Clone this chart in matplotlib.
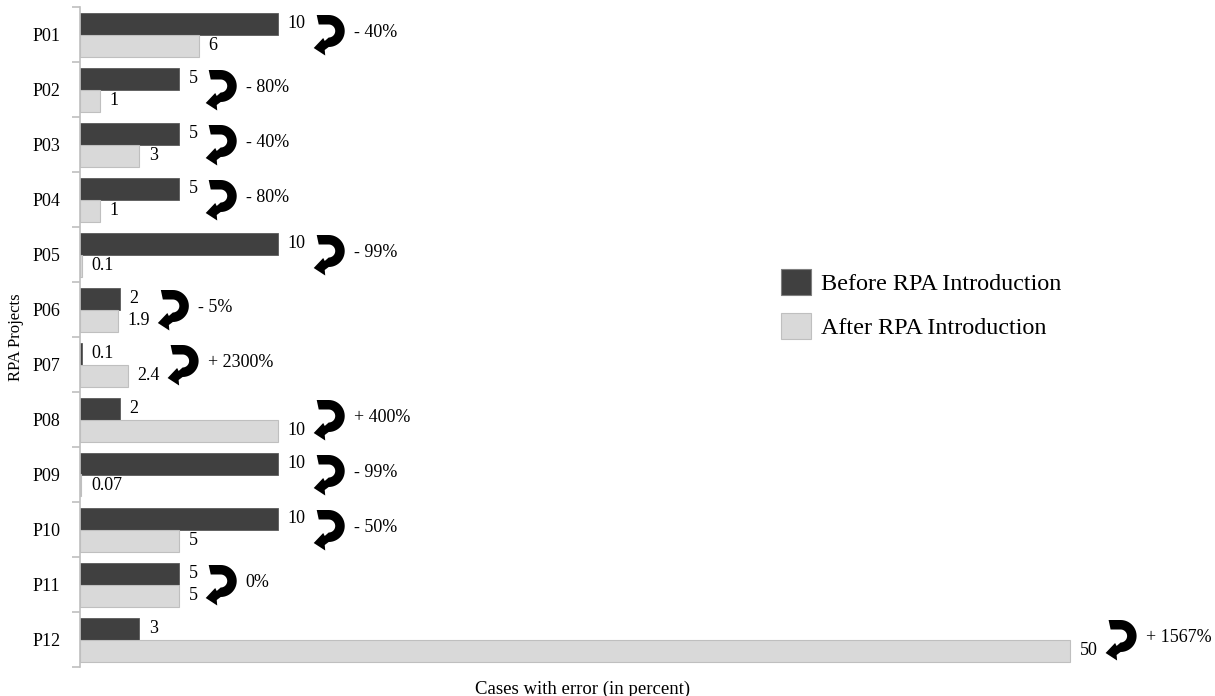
import matplotlib

matplotlib.use("Agg")
import matplotlib.pyplot as plt
import numpy as np
from matplotlib.patches import Patch, Polygon

plt.rcParams["font.family"] = ["Liberation Serif", "DejaVu Serif"]

projects = ["P01", "P02", "P03", "P04", "P05", "P06",
            "P07", "P08", "P09", "P10", "P11", "P12"]
before_rpa = [10, 5, 5, 5, 10, 2, 0.1, 2, 10, 10, 5, 3]
after_rpa = [6, 1, 3, 1, 0.1, 1.9, 2.4, 10, 0.07, 5, 5, 50]

DARK = "#404040"
LIGHT = "#d9d9d9"
GRID = "#bfbfbf"
FS = 13


def change_label(b, a):
    pct = round((a - b) / b * 100)
    if pct == 0:
        return "0%"
    sign = "+" if pct > 0 else "-"
    return f"{sign} {abs(pct)}%"


def curved_arrow(cx=15.0, cy=3.5, r_out=16.0, r_in=6.5):
    """Outline (pixels, y up) of a thick clockwise U-turn arrow."""
    pts = [(3.0, cy + r_out)]
    for th in np.radians(np.linspace(90, -90, 30)):
        pts.append((cx + r_out * np.cos(th), cy + r_out * np.sin(th)))
    pts += [(11.0, -15.5), (11.5, -21.0), (0.0, -13.5), (9.5, -3.5), (11.0, -6.5)]
    for th in np.radians(np.linspace(-90, 90, 30)):
        pts.append((cx + r_in * np.cos(th), cy + r_in * np.sin(th)))
    pts.append((5.0, cy + r_in))
    return np.array(pts)


fig = plt.figure(figsize=(12.15, 6.96), dpi=100)
ax = fig.add_axes([80 / 1215, 29 / 696, 1120 / 1215, 660 / 696])

ypos = list(range(len(projects)))
h = 0.4
ax.barh([y - h / 2 for y in ypos], before_rpa, height=h, color=DARK,
        edgecolor="#5a5a5a", linewidth=0.6)
ax.barh([y + h / 2 for y in ypos], after_rpa, height=h, color=LIGHT,
        edgecolor=GRID, linewidth=0.8)

ax.set_xlim(0, 1120 / 19.8)
ax.set_ylim(len(projects) - 0.5, -0.5)

for side in ("top", "right", "bottom"):
    ax.spines[side].set_visible(False)
ax.spines["left"].set_color(GRID)
ax.spines["left"].set_linewidth(1.2)
ax.set_xticks([])
ax.set_yticks(ypos, projects, fontsize=FS)
ax.tick_params(axis="y", which="major", length=0, pad=14)
ax.set_yticks([y - 0.5 for y in range(len(projects) + 1)], minor=True)
ax.tick_params(axis="y", which="minor", length=6, color=GRID, width=1.2)

ax.set_ylabel("RPA Projects", fontsize=12, labelpad=6)
ax.set_xlabel("Cases with error (in percent)", fontsize=13.5)
ax.xaxis.set_label_coords(0.449, -0.02)

# value labels next to each bar
pairs = []
for y, b, a in zip(ypos, before_rpa, after_rpa):
    tb = ax.annotate(f"{b:g}", (b, y - h / 2), xytext=(7, 0),
                     textcoords="offset points", va="center", fontsize=FS)
    ta = ax.annotate(f"{a:g}", (a, y + h / 2), xytext=(7, 0),
                     textcoords="offset points", va="center", fontsize=FS)
    pairs.append((tb, ta))

fig.canvas.draw()
renderer = fig.canvas.get_renderer()
inv = ax.transData.inverted()
outline = curved_arrow()

# U-turn arrows with the relative change, placed after the widest label
for y, b, a, (tb, ta) in zip(ypos, before_rpa, after_rpa, pairs):
    right = max(tb.get_window_extent(renderer).x1,
                ta.get_window_extent(renderer).x1)
    x0 = right + 8
    yc = ax.transData.transform((0, y))[1]
    pts = inv.transform(outline + [x0, yc])
    ax.add_patch(Polygon(pts, closed=True, facecolor="black", edgecolor="none"))
    xt, yt = inv.transform((x0 + 40, yc + 2))
    ax.text(xt, yt, change_label(b, a), va="center", fontsize=FS)

handles = [Patch(facecolor=DARK, edgecolor="#7f7f7f", linewidth=0.8),
           Patch(facecolor=LIGHT, edgecolor=GRID, linewidth=0.8)]
fig.legend(handles, ["Before RPA Introduction", "After RPA Introduction"],
           loc="upper left", bbox_to_anchor=(781 / 1215, 1 - 269 / 696),
           frameon=False, fontsize=17.4, handlelength=1.25, handleheight=1.25,
           handletextpad=0.42, labelspacing=0.75, borderpad=0, borderaxespad=0)

fig.savefig("out.png", dpi=100)
